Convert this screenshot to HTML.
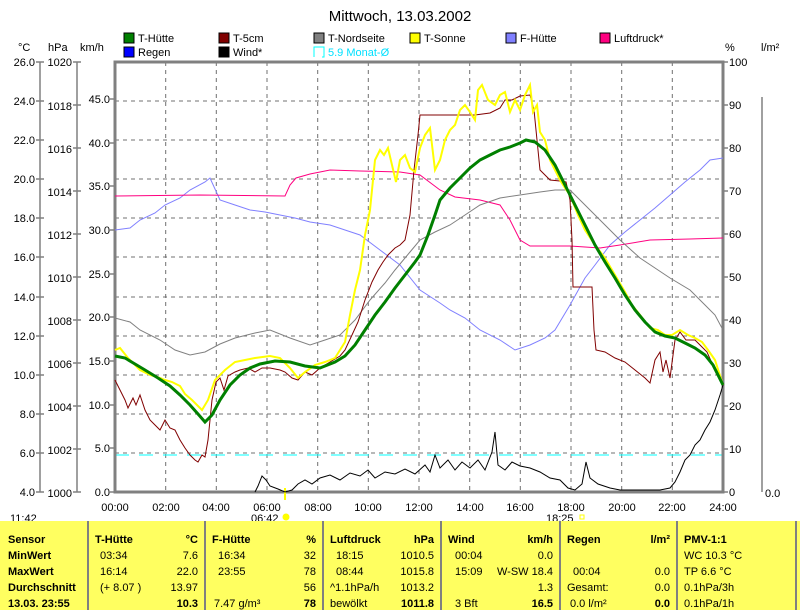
<!DOCTYPE html>
<html><head><meta charset="utf-8"><style>
body{margin:0;background:#fff;}
svg{display:block;font-family:"Liberation Sans",sans-serif;}
</style></head><body>
<svg width="800" height="610" xmlns="http://www.w3.org/2000/svg">
<rect width="800" height="610" fill="#fff"/>
<text x="400" y="21" font-size="15" text-anchor="middle" fill="#000">Mittwoch, 13.03.2002</text>
<g font-size="11" fill="#000">
<rect x="124" y="33" width="10" height="10" fill="#008000" stroke="#000"/><text x="138" y="42">T-Hütte</text>
<rect x="124" y="47" width="10" height="10" fill="#0000ff" stroke="#000"/><text x="138" y="56">Regen</text>
<rect x="219" y="33" width="10" height="10" fill="#800000" stroke="#000"/><text x="233" y="42">T-5cm</text>
<rect x="219" y="47" width="10" height="10" fill="#000" stroke="#000"/><text x="233" y="56">Wind*</text>
<rect x="314" y="33" width="10" height="10" fill="#808080" stroke="#000"/><text x="328" y="42">T-Nordseite</text>
<path d="M314,57 v-10 h10 v10 h-2" fill="none" stroke="#00ffff"/><text x="328" y="56" fill="#00e0ff">5.9 Monat-Ø</text>
<rect x="410" y="33" width="10" height="10" fill="#ffff00" stroke="#000"/><text x="424" y="42">T-Sonne</text>
<rect x="506" y="33" width="10" height="10" fill="#8080ff" stroke="#000"/><text x="520" y="42">F-Hütte</text>
<rect x="600" y="33" width="10" height="10" fill="#ff0080" stroke="#000"/><text x="614" y="42">Luftdruck*</text>
<text x="18" y="51">°C</text><text x="48" y="51">hPa</text><text x="80" y="51">km/h</text>
<text x="725" y="51">%</text><text x="761" y="51">l/m²</text>
</g>
<g stroke="#707070" stroke-dasharray="4,4" stroke-width="1">
<path d="M115,101H723M115,140H723M115,179H723M115,218H723M115,257H723M115,297H723M115,336H723M115,375H723M115,414H723M115,453H723"/>
<path d="M165.7,62V492M216.3,62V492M267,62V492M317.7,62V492M368.3,62V492M419,62V492M469.7,62V492M520.3,62V492M571,62V492M621.7,62V492M672.3,62V492"/>
</g>
<path d="M115,455H723" stroke="#00ffff" stroke-dasharray="14,10"/>
<rect x="115" y="62" width="608" height="430" fill="none" stroke="#808080" stroke-width="3"/>
<g stroke="#808080" stroke-width="1.5" fill="none">
<path d="M40,62V492M77,62V492M762,97V492"/>
<path d="M36,62h8M36,101h8M36,140h8M36,179h8M36,218h8M36,257h8M36,297h8M36,336h8M36,375h8M36,414h8M36,453h8M36,492h8"/>
<path d="M73,62h8M73,105h8M73,148h8M73,191h8M73,234h8M73,277h8M73,320h8M73,363h8M73,406h8M73,449h8M73,492h8"/>
<path d="M110,99h5M110,143h5M110,186h5M110,230h5M110,274h5M110,317h5M110,361h5M110,405h5M110,448h5M110,492h5"/>
<path d="M723,62h5M723,105h5M723,148h5M723,191h5M723,234h5M723,277h5M723,320h5M723,363h5M723,406h5M723,449h5M723,492h5"/>
</g>
<g font-size="11" fill="#000" text-anchor="end">
<text x="35" y="66">26.0</text><text x="35" y="105">24.0</text><text x="35" y="144">22.0</text><text x="35" y="183">20.0</text><text x="35" y="222">18.0</text><text x="35" y="261">16.0</text><text x="35" y="301">14.0</text><text x="35" y="340">12.0</text><text x="35" y="379">10.0</text><text x="35" y="418">8.0</text><text x="35" y="457">6.0</text><text x="35" y="496">4.0</text>
<text x="72" y="66">1020</text><text x="72" y="110">1018</text><text x="72" y="153">1016</text><text x="72" y="196">1014</text><text x="72" y="239">1012</text><text x="72" y="282">1010</text><text x="72" y="325">1008</text><text x="72" y="368">1006</text><text x="72" y="411">1004</text><text x="72" y="454">1002</text><text x="72" y="497">1000</text>
<text x="110" y="103">45.0</text><text x="110" y="147">40.0</text><text x="110" y="190">35.0</text><text x="110" y="234">30.0</text><text x="110" y="278">25.0</text><text x="110" y="321">20.0</text><text x="110" y="365">15.0</text><text x="110" y="409">10.0</text><text x="110" y="452">5.0</text><text x="110" y="496">0.0</text>
</g>
<g font-size="11" fill="#000">
<text x="729" y="66">100</text><text x="729" y="109">90</text><text x="729" y="152">80</text><text x="729" y="195">70</text><text x="729" y="238">60</text><text x="729" y="281">50</text><text x="729" y="324">40</text><text x="729" y="367">30</text><text x="729" y="410">20</text><text x="729" y="453">10</text><text x="729" y="496">0</text>
<text x="765" y="497">0.0</text>
</g>
<g font-size="11" fill="#000" text-anchor="middle">
<text x="115" y="511">00:00</text><text x="166" y="511">02:00</text><text x="216" y="511">04:00</text><text x="267" y="511">06:00</text><text x="318" y="511">08:00</text><text x="368" y="511">10:00</text><text x="419" y="511">12:00</text><text x="470" y="511">14:00</text><text x="520" y="511">16:00</text><text x="571" y="511">18:00</text><text x="622" y="511">20:00</text><text x="672" y="511">22:00</text><text x="723" y="511">24:00</text>
</g>
<g font-size="11" fill="#000">
<text x="10" y="522">11:42</text><text x="251" y="522">06:42</text><text x="546" y="522">18:25</text>
</g>
<path d="M285,488V500" stroke="#ffff00" stroke-width="2"/>
<circle cx="286" cy="517" r="3.5" fill="#ffff00"/>
<rect x="580" y="515" width="4" height="4" fill="none" stroke="#ffff00"/>
<polyline fill="none" stroke="#8080ff" stroke-width="1" points="115,230 130,228 140,220 155,213 165,205 180,198 190,190 205,182 210,178 220,200 235,205 250,210 265,212 280,215 295,218 310,222 330,225 345,230 360,235 380,250 400,265 420,290 440,303 450,310 465,318 480,330 500,340 515,350 530,345 545,338 555,330 570,305 585,278 595,265 610,245 625,232 640,220 655,208 670,195 685,182 700,170 710,160 723,158"/>
<polyline fill="none" stroke="#ff0080" stroke-width="1" points="115,196 200,195 285,196 290,185 296,178 310,174 330,170 360,171 400,172 420,175 440,190 455,197 480,200 500,205 510,220 520,240 530,246 570,246 600,248 620,245 650,240 690,239 723,238"/>
<polyline fill="none" stroke="#808080" stroke-width="1" points="115,318 130,322 140,330 160,340 175,350 190,355 205,352 220,344 235,338 255,333 270,330 290,338 310,345 325,340 340,335 355,320 370,300 385,283 395,270 410,252 420,240 435,232 450,225 465,215 480,205 500,198 520,195 540,192 555,190 570,190 585,205 600,220 620,240 640,258 655,268 670,278 690,290 705,305 715,315 723,330"/>
<polyline fill="none" stroke="#800000" stroke-width="1" points="115,380 120,390 125,400 128,408 133,398 136,405 140,395 145,410 150,420 155,425 160,430 165,420 170,428 175,430 180,440 185,448 190,455 195,460 198,462 202,455 205,457 208,440 212,400 216,382 220,378 224,390 228,376 235,372 240,370 248,368 255,372 262,368 270,368 280,370 285,372 292,378 298,380 305,372 312,375 320,368 330,362 340,356 345,350 352,335 358,322 365,300 372,282 378,270 383,262 388,255 395,248 400,245 405,240 410,215 414,170 418,135 420,115 430,115 440,115 455,115 465,115 475,115 490,113 500,108 505,100 512,100 520,96 530,95 534,110 537,140 540,170 545,175 550,180 560,181 566,182 570,200 572,240 573,287 592,287 594,330 596,350 605,352 615,358 625,362 635,370 645,378 650,383 655,360 660,352 663,372 666,360 670,378 675,340 680,332 686,340 695,340 700,345 707,352 715,370 723,385"/>
<polyline fill="none" stroke="#ffff00" stroke-width="2" points="115,350 120,348 128,358 140,370 150,375 160,378 165,380 172,382 180,386 185,394 192,400 198,406 202,410 208,400 215,380 225,370 235,362 245,360 255,358 270,356 280,358 290,368 298,378 305,372 315,365 325,362 335,358 345,342 350,315 355,290 360,270 365,235 370,210 375,160 380,150 384,155 388,148 392,165 396,182 400,160 405,155 410,168 415,172 420,148 425,135 430,128 435,170 440,160 445,140 450,130 455,125 460,110 465,105 470,112 475,120 478,90 482,85 488,100 495,105 500,95 505,92 510,112 515,100 520,110 525,95 530,85 533,112 537,105 540,132 545,140 550,160 555,170 560,180 565,188 570,195 578,215 585,230 595,245 605,258 615,275 625,292 632,305 640,315 650,328 658,330 665,335 672,335 680,330 688,335 695,338 702,342 708,350 715,360 723,385"/>
<polyline fill="none" stroke="#008000" stroke-width="3" points="115,356 125,358 135,364 145,370 158,378 170,386 180,395 190,405 198,414 205,422 212,415 220,400 230,385 240,375 250,368 260,364 275,361 290,362 305,366 320,368 335,362 345,356 355,345 365,330 375,315 385,302 395,288 405,275 415,262 420,255 428,235 435,215 440,200 450,188 460,178 470,168 480,160 490,155 500,150 510,147 520,143 526,140 535,142 545,150 555,165 565,185 575,205 585,225 595,245 605,262 615,278 625,295 635,310 645,322 655,332 665,336 675,338 685,343 695,348 705,355 713,365 723,385"/>
<polyline fill="none" stroke="#000" stroke-width="1" points="255,492 258,486 262,476 266,480 270,486 278,489 285,492 292,490 298,484 305,480 312,484 320,478 330,475 340,480 350,473 360,476 368,470 375,478 385,472 395,474 405,469 415,474 425,465 430,472 435,455 440,468 448,460 455,470 462,462 470,468 478,460 485,470 492,452 495,432 498,465 505,470 512,462 520,466 530,468 540,472 550,478 560,480 568,488 575,490 582,484 586,462 590,478 598,484 610,488 620,490 640,490 660,490 670,488 675,482 680,472 685,460 690,455 695,445 700,440 705,430 710,422 715,410 720,395 723,385"/>
<rect x="0" y="521" width="800" height="89" fill="#ffff60"/>
<g stroke="#808080" stroke-width="2"><path d="M88,521V610M205,521V610M323,521V610M441,521V610M560,521V610M677,521V610M796,521V610"/></g>
<g font-size="11" fill="#000">
<g font-weight="bold">
<text x="8" y="543">Sensor</text><text x="8" y="559">MinWert</text><text x="8" y="575">MaxWert</text><text x="8" y="591">Durchschnitt</text><text x="8" y="607">13.03. 23:55</text>
<text x="95" y="543">T-Hütte</text><text x="198" y="543" text-anchor="end">°C</text>
<text x="212" y="543">F-Hütte</text><text x="316" y="543" text-anchor="end">%</text>
<text x="330" y="543">Luftdruck</text><text x="434" y="543" text-anchor="end">hPa</text>
<text x="448" y="543">Wind</text><text x="553" y="543" text-anchor="end">km/h</text>
<text x="567" y="543">Regen</text><text x="670" y="543" text-anchor="end">l/m²</text>
<text x="684" y="543">PMV-1:1</text>
<text x="198" y="607" text-anchor="end">10.3</text><text x="316" y="607" text-anchor="end">78</text>
<text x="434" y="607" text-anchor="end">1011.8</text><text x="553" y="607" text-anchor="end">16.5</text><text x="670" y="607" text-anchor="end">0.0</text>
</g>
<text x="100" y="559">03:34</text><text x="198" y="559" text-anchor="end">7.6</text>
<text x="100" y="575">16:14</text><text x="198" y="575" text-anchor="end">22.0</text>
<text x="100" y="591">(+ 8.07 )</text><text x="198" y="591" text-anchor="end">13.97</text>
<text x="218" y="559">16:34</text><text x="316" y="559" text-anchor="end">32</text>
<text x="218" y="575">23:55</text><text x="316" y="575" text-anchor="end">78</text>
<text x="316" y="591" text-anchor="end">56</text><text x="214" y="607">7.47 g/m³</text>
<text x="336" y="559">18:15</text><text x="434" y="559" text-anchor="end">1010.5</text>
<text x="336" y="575">08:44</text><text x="434" y="575" text-anchor="end">1015.8</text>
<text x="330" y="591">^1.1hPa/h</text><text x="434" y="591" text-anchor="end">1013.2</text>
<text x="330" y="607">bewölkt</text>
<text x="455" y="559">00:04</text><text x="553" y="559" text-anchor="end">0.0</text>
<text x="455" y="575">15:09</text><text x="553" y="575" text-anchor="end">W-SW 18.4</text>
<text x="553" y="591" text-anchor="end">1.3</text><text x="455" y="607">3 Bft</text>
<text x="573" y="575">00:04</text><text x="670" y="575" text-anchor="end">0.0</text>
<text x="567" y="591">Gesamt:</text><text x="670" y="591" text-anchor="end">0.0</text>
<text x="570" y="607">0.0 l/m²</text>
<text x="684" y="559">WC 10.3 °C</text><text x="684" y="575">TP 6.6 °C</text><text x="684" y="591">0.1hPa/3h</text><text x="684" y="607">0.1hPa/1h</text>
</g>
</svg>
</body></html>
